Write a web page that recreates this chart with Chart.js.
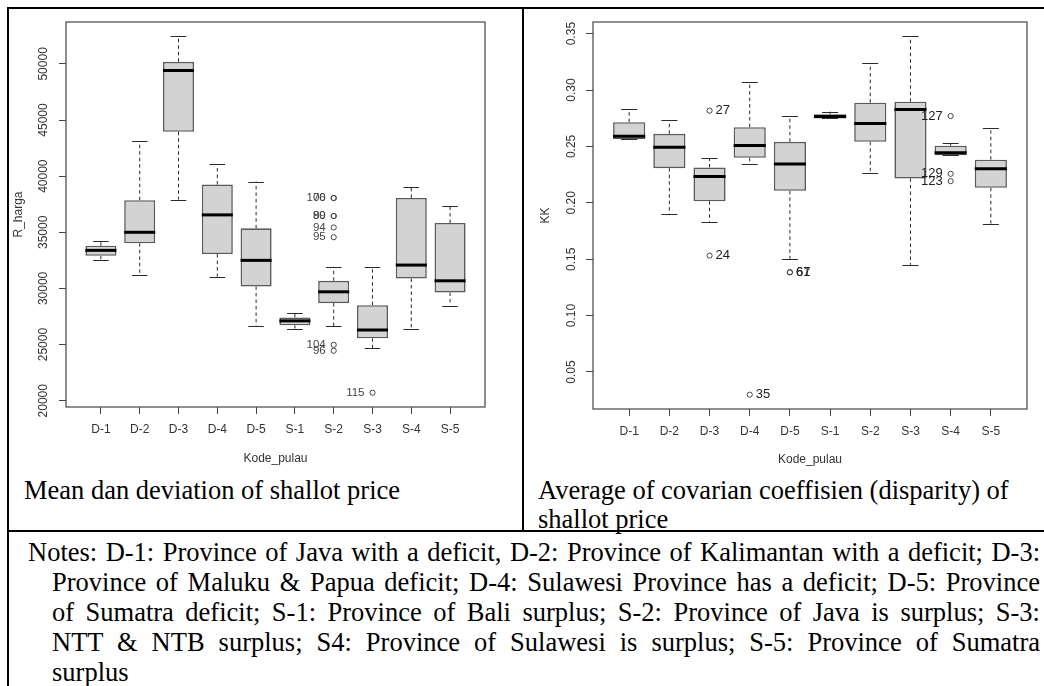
<!DOCTYPE html>
<html><head><meta charset="utf-8">
<script src="https://cdn.jsdelivr.net/npm/chart.js@4.4.0/dist/chart.umd.min.js"></script>
<style>
html,body{margin:0;padding:0;background:#fff;width:1044px;height:686px;overflow:hidden;}
.line{position:absolute;background:#000;}
canvas{position:absolute;}
.cap{position:absolute;font-family:"Liberation Serif","Times New Roman",serif;font-size:26.5px;line-height:29px;color:#000;white-space:nowrap;}
.notes{position:absolute;left:28px;top:537px;width:1012px;font-family:"Liberation Serif","Times New Roman",serif;font-size:26.5px;line-height:30px;color:#000;}
.notes div{text-align:justify;text-align-last:justify;}
.notes div.ind{padding-left:24px;}
.notes div.last{text-align-last:left;}
</style></head>
<body>
<div class="line" style="left:7px;top:7px;width:1037px;height:2px;"></div>
<div class="line" style="left:7px;top:7px;width:2px;height:679px;"></div>
<div class="line" style="left:522px;top:7px;width:2px;height:525px;"></div>
<div class="line" style="left:7px;top:530px;width:1037px;height:2px;"></div>

<canvas id="c1" width="508" height="462" style="left:9px;top:10px;"></canvas>
<canvas id="c2" width="515" height="462" style="left:527px;top:10px;"></canvas>

<div class="cap" style="left:24px;top:476px;">Mean dan deviation of shallot price</div>
<div class="cap" style="left:538px;top:476px;">Average of covarian coeffisien (disparity) of<br>shallot price</div>

<div class="notes">
<div>Notes: D-1: Province of Java with a deficit, D-2: Province of Kalimantan with a deficit; D-3:</div>
<div class="ind">Province of Maluku &amp; Papua deficit; D-4: Sulawesi Province has a deficit; D-5: Province</div>
<div class="ind">of Sumatra deficit; S-1: Province of Bali surplus; S-2: Province of Java is surplus; S-3:</div>
<div class="ind">NTT &amp; NTB surplus; S4: Province of Sulawesi is surplus; S-5: Province of Sumatra</div>
<div class="ind last">surplus</div>
</div>

<script>
const categories = ['D-1','D-2','D-3','D-4','D-5','S-1','S-2','S-3','S-4','S-5'];

// Left plot: R_harga
const hargaLowerWhisker = [32500, 31190, 37910, 31040, 26660, 26430, 26610, 24670, 26370, 28480];
const hargaQ1           = [32910, 34020, 43950, 33060, 30180, 26720, 28690, 25560, 30890, 29640];
const hargaMedian       = [33390, 35000, 49400, 36550, 32500, 27110, 29700, 26300, 32080, 30680];
const hargaQ3           = [33800, 37860, 50180, 39250, 35350, 27410, 30680, 28510, 38060, 35830];
const hargaUpperWhisker = [34220, 43130, 52460, 41070, 39520, 27770, 31930, 31930, 39070, 37380];
const hargaOutlierGroup = ['S-2','S-2','S-2','S-2','S-2','S-2','S-2','S-2','S-3'];
const hargaOutlierValue = [38050, 38050, 36450, 36450, 35430, 34560, 24980, 24450, 20710];
const hargaOutlierLabel = ['106','70','89','90','94','95','104','96','115'];
const hargaTicks = [20000, 25000, 30000, 35000, 40000, 45000, 50000];

// Right plot: KK
const kkLowerWhisker = [0.2565, 0.1899, 0.1834, 0.2343, 0.1503, 0.2748, 0.2266, 0.1450, 0.2422, 0.1816];
const kkQ1           = [0.2565, 0.2307, 0.2014, 0.2399, 0.2106, 0.2748, 0.2541, 0.2216, 0.2422, 0.2133];
const kkMedian       = [0.2591, 0.2493, 0.2233, 0.2508, 0.2343, 0.2766, 0.2704, 0.2828, 0.2444, 0.2302];
const kkQ3           = [0.2715, 0.2612, 0.2313, 0.2671, 0.2541, 0.2786, 0.2888, 0.2896, 0.2506, 0.2382];
const kkUpperWhisker = [0.2828, 0.2730, 0.2396, 0.3068, 0.2766, 0.2808, 0.3240, 0.3476, 0.2529, 0.2662];
const kkOutlierGroup = ['D-3','D-3','D-4','D-5','D-5','S-4','S-4','S-4'];
const kkOutlierValue = [0.2817, 0.1532, 0.0299, 0.1384, 0.1384, 0.2769, 0.2257, 0.2192];
const kkOutlierLabel = ['27','24','35','61','67','127','129','123'];
const kkTicks = [0.05, 0.10, 0.15, 0.20, 0.25, 0.30, 0.35];

const SANS = '"Liberation Sans", Arial, sans-serif';

function makeBoxChart(canvasId, d, st) {
  const all = d.low.concat(d.high, d.outVal);
  const mn = Math.min(...all), mx = Math.max(...all);
  const ext = (mx - mn) * 0.04;

  const plugin = {
    id: 'boxplot_' + canvasId,
    beforeDatasetsDraw(chart) {
      const {ctx, scales: {x, y}} = chart;
      const meta = chart.getDatasetMeta(0);
      ctx.save();
      ctx.strokeStyle = '#2a2a2a';
      ctx.lineWidth = 1;
      d.low.forEach((lo, i) => {
        const bar = meta.data[i];
        const cx = x.getPixelForValue(i + 1);
        const half = bar.width / 4;
        ctx.setLineDash([3.5, 3]);
        ctx.beginPath();
        ctx.moveTo(cx, y.getPixelForValue(d.q3[i]));
        ctx.lineTo(cx, y.getPixelForValue(d.high[i]));
        ctx.moveTo(cx, y.getPixelForValue(d.q1[i]));
        ctx.lineTo(cx, y.getPixelForValue(lo));
        ctx.stroke();
        ctx.setLineDash([]);
        ctx.beginPath();
        const yh = Math.round(y.getPixelForValue(d.high[i])) + 0.5;
        const yl = Math.round(y.getPixelForValue(lo)) + 0.5;
        ctx.moveTo(cx - half, yh); ctx.lineTo(cx + half, yh);
        ctx.moveTo(cx - half, yl); ctx.lineTo(cx + half, yl);
        ctx.stroke();
      });
      ctx.restore();
    },
    afterDatasetsDraw(chart) {
      const {ctx, scales: {x, y}} = chart;
      const meta = chart.getDatasetMeta(0);
      ctx.save();
      ctx.strokeStyle = '#000';
      ctx.lineWidth = 3;
      d.med.forEach((m, i) => {
        const bar = meta.data[i];
        const cx = x.getPixelForValue(i + 1);
        const ym = y.getPixelForValue(m);
        ctx.beginPath();
        ctx.moveTo(cx - bar.width / 2, ym);
        ctx.lineTo(cx + bar.width / 2, ym);
        ctx.stroke();
      });
      ctx.font = st.outFont + 'px ' + SANS;
      ctx.fillStyle = st.outColor;
      ctx.textBaseline = 'middle';
      d.outLab.forEach((lab, k) => {
        const px = x.getPixelForValue(categories.indexOf(d.outGrp[k]) + 1);
        const py = y.getPixelForValue(d.outVal[k]);
        const side = st.labelSide[k];
        if (side === 'left') { ctx.textAlign = 'right'; ctx.fillText(lab, px - 8, py); }
        else { ctx.textAlign = 'left'; ctx.fillText(lab, px + 6, py); }
      });
      ctx.restore();
    },
    afterDraw(chart) {
      const {ctx, chartArea: a, scales: {y}} = chart;
      ctx.save();
      ctx.strokeStyle = '#444';
      ctx.lineWidth = 1.2;
      ctx.strokeRect(a.left, a.top, a.right - a.left, a.bottom - a.top);
      ctx.fillStyle = '#333';
      ctx.font = '12px ' + SANS;
      ctx.textAlign = 'center';
      ctx.textBaseline = 'middle';
      y.ticks.forEach(t => {
        const py = y.getPixelForValue(t.value);
        ctx.save();
        ctx.translate(a.left - st.tickLabelGap, py);
        ctx.rotate(-Math.PI / 2);
        ctx.fillText(st.fmt(t.value), 0, 0);
        ctx.restore();
      });
      ctx.restore();
    }
  };

  return new Chart(document.getElementById(canvasId), {
    type: 'bar',
    data: {
      datasets: [
        {
          type: 'bar',
          data: categories.map((c, i) => ({x: i + 1, y: [d.q1[i], d.q3[i]]})),
          backgroundColor: '#d3d3d3',
          borderColor: '#5a5a5a',
          borderWidth: 1.6,
          borderSkipped: false,
          barPercentage: 1,
          categoryPercentage: 0.8,
          order: 2
        },
        {
          type: 'scatter',
          data: d.outGrp.map((g, k) => ({x: categories.indexOf(g) + 1, y: d.outVal[k]})),
          pointRadius: 2.6,
          pointBorderWidth: 1,
          pointBorderColor: '#444',
          pointBackgroundColor: 'rgba(0,0,0,0)',
          order: 1
        }
      ]
    },
    options: {
      responsive: false,
      animation: false,
      devicePixelRatio: 1,
      layout: {padding: st.padding},
      plugins: {legend: {display: false}, tooltip: {enabled: false}},
      scales: {
        x: {
          type: 'linear',
          min: 0.1, max: 10.9,
          offset: false,
          afterBuildTicks: s => { s.ticks = categories.map((c, i) => ({value: i + 1})); },
          afterFit: s => { s.height = st.xAxisHeight; },
          ticks: {
            autoSkip: false, maxRotation: 0, minRotation: 0,
            padding: 8, color: '#333',
            font: {family: SANS, size: 12},
            callback: v => categories[v - 1]
          },
          grid: {display: true, offset: false, drawOnChartArea: false, drawTicks: true, tickLength: 7, color: '#444', lineWidth: 1},
          border: {display: false},
          title: {display: true, text: 'Kode_pulau', color: '#333', font: {family: SANS, size: 12}, padding: {top: 0, bottom: st.xTitlePad}}
        },
        y: {
          type: 'linear',
          min: mn - ext, max: mx + ext,
          afterBuildTicks: s => { s.ticks = st.ticks.map(v => ({value: v})); },
          afterFit: s => { s.width = st.yAxisWidth; },
          ticks: {display: false},
          grid: {display: true, drawOnChartArea: false, drawTicks: true, tickLength: 7, color: '#444', lineWidth: 1},
          border: {display: false},
          title: {display: true, text: st.yTitle, color: '#333', font: {family: SANS, size: 12}, padding: {top: st.yTitlePad, bottom: 0}}
        }
      }
    },
    plugins: [plugin]
  });
}

makeBoxChart('c1', {
  low: hargaLowerWhisker, q1: hargaQ1, med: hargaMedian, q3: hargaQ3, high: hargaUpperWhisker,
  outGrp: hargaOutlierGroup, outVal: hargaOutlierValue, outLab: hargaOutlierLabel
}, {
  ticks: hargaTicks, fmt: v => String(v), yTitle: 'R_harga',
  padding: {top: 12, right: 32, left: 0, bottom: 0},
  yAxisWidth: 57, xAxisHeight: 65, xTitlePad: 6, yTitlePad: 2, tickLabelGap: 22,
  outFont: 11.5, outColor: '#444',
  labelSide: hargaOutlierLabel.map(() => 'left')
});

makeBoxChart('c2', {
  low: kkLowerWhisker, q1: kkQ1, med: kkMedian, q3: kkQ3, high: kkUpperWhisker,
  outGrp: kkOutlierGroup, outVal: kkOutlierValue, outLab: kkOutlierLabel
}, {
  ticks: kkTicks, fmt: v => v.toFixed(2), yTitle: 'KK',
  padding: {top: 12, right: 15, left: 0, bottom: 0},
  yAxisWidth: 66, xAxisHeight: 63, xTitlePad: 5, yTitlePad: 11, tickLabelGap: 21,
  outFont: 13, outColor: '#222',
  labelSide: ['right','right','right','right','right','left','left','left']
});
</script>
</body></html>
